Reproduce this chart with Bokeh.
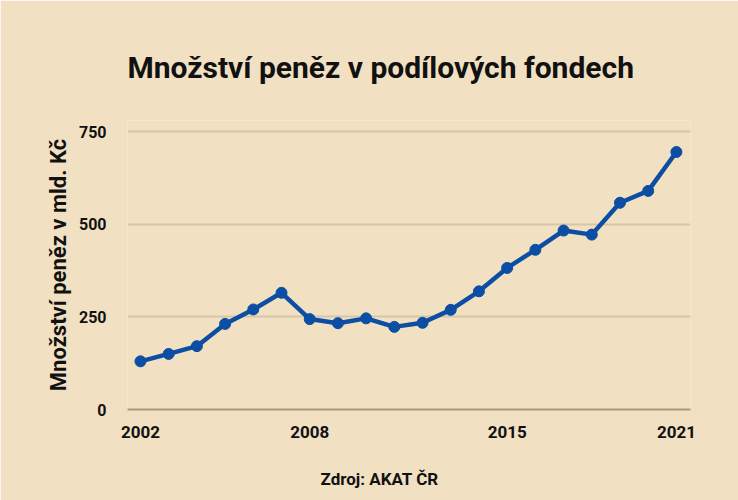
from bokeh.plotting import figure
from bokeh.models import Range1d, FixedTicker, Title
from bokeh.embed import file_html
from bokeh.resources import INLINE

years = list(range(2002, 2022))
values = [130, 150, 171, 231, 270, 315, 244, 233, 246, 223,
          234, 269, 319, 382, 431, 483, 472, 558, 590, 695]
x_ticks = [2002, 2008, 2015, 2021]
y_ticks = [0, 250, 500, 750]

title_text = "Množství peněz v podílových fondech"
y_label = "Množství peněz v mld. Kč"
source_text = "Zdroj: AKAT ČR"

BG = "#F2E0C2"
INK = "#111111"
LINE = "#0B4EA3"
FONT = "Roboto"

p = figure(width=738, height=500, output_backend="svg", toolbar_location=None,
           x_range=Range1d(2001.54, 2021.5), y_range=Range1d(0, 780),
           min_border_left=127, min_border_right=48, min_border_top=120,
           min_border_bottom=91,
           background_fill_color=BG, border_fill_color=BG,
           outline_line_color=None)

# title
p.title.text = title_text
p.title.text_font = FONT
p.title.text_font_size = "30px"
p.title.text_font_style = "bold"
p.title.text_color = INK
p.title.align = "left"
p.title.offset = 0
p.add_layout(Title(text=" ", text_font_size="17px", text_color=BG), "above")

# axes
p.xaxis.ticker = FixedTicker(ticks=x_ticks)
p.yaxis.ticker = FixedTicker(ticks=y_ticks)
for ax in (p.xaxis, p.yaxis):
    ax.major_label_text_font = FONT
    ax.major_label_text_font_style = "bold"
    ax.major_label_text_color = INK
    ax.major_tick_line_color = None
    ax.minor_tick_line_color = None
p.xaxis.major_label_text_font_size = "17px"
p.yaxis.major_label_text_font_size = "16px"
p.yaxis.axis_line_color = None
p.xaxis.axis_line_color = "#A89A80"
p.xaxis.axis_line_width = 2
p.yaxis.major_label_standoff = 15
p.xaxis.major_label_standoff = 10

p.yaxis.axis_label = y_label
p.yaxis.axis_label_text_font = FONT
p.yaxis.axis_label_text_font_size = "22px"
p.yaxis.axis_label_text_font_style = "bold"
p.yaxis.axis_label_text_color = INK
p.yaxis.axis_label_standoff = 5

p.xgrid.grid_line_color = None
p.ygrid.ticker = FixedTicker(ticks=y_ticks)
p.ygrid.grid_line_color = "#D6C5A6"
p.ygrid.grid_line_width = 2

# source
p.add_layout(Title(text=" ", text_font_size="8px", text_color=BG), "below")
p.add_layout(Title(text=source_text, text_font=FONT, text_font_size="17px",
                   text_font_style="bold", text_color=INK, align="left",
                   offset=193), "below")

p.line(years, values, line_color=LINE, line_width=4.5)
p.scatter(years, values, size=11, fill_color=LINE, line_color=LINE)

open("out.html", "w").write(file_html(p, INLINE))
